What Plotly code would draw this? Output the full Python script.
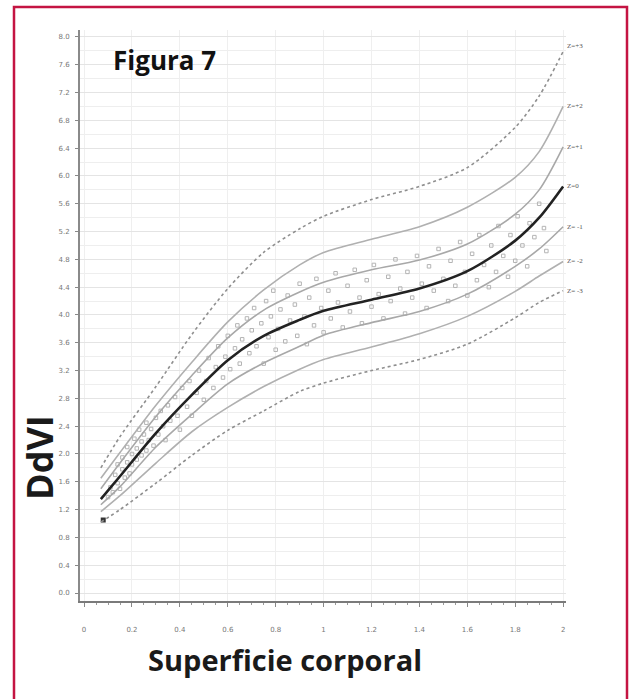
import plotly.graph_objects as go

# ---- data ----
bsa = [0.07, 0.15, 0.30, 0.45, 0.60, 0.75, 0.90, 1.00, 1.20, 1.40, 1.60, 1.80, 1.90, 2.00]

z_p3 = [1.80, 2.25, 2.97, 3.72, 4.38, 4.90, 5.24, 5.42, 5.66, 5.85, 6.12, 6.70, 7.15, 7.79]
z_p2 = [1.65, 2.02, 2.70, 3.32, 3.90, 4.36, 4.72, 4.90, 5.09, 5.27, 5.55, 5.98, 6.35, 7.00]
z_p1 = [1.50, 1.87, 2.54, 3.13, 3.67, 4.07, 4.33, 4.47, 4.65, 4.79, 5.02, 5.45, 5.80, 6.42]
z_0  = [1.35, 1.68, 2.30, 2.85, 3.35, 3.70, 3.93, 4.06, 4.22, 4.38, 4.63, 5.07, 5.40, 5.85]
z_m1 = [1.27, 1.53, 2.10, 2.57, 3.01, 3.31, 3.55, 3.71, 3.89, 4.05, 4.30, 4.70, 4.95, 5.27]
z_m2 = [1.17, 1.40, 1.87, 2.32, 2.67, 2.97, 3.22, 3.36, 3.54, 3.73, 3.98, 4.34, 4.56, 4.77]
z_m3 = [1.02, 1.20, 1.58, 1.98, 2.34, 2.62, 2.90, 3.02, 3.20, 3.36, 3.58, 3.96, 4.18, 4.35]

z_names = ["Z=+3", "Z=+2", "Z=+1", "Z=0", "Z= -1", "Z= -2", "Z= -3"]

pts_x = [0.10, 0.11, 0.12, 0.13, 0.14, 0.14, 0.15, 0.16, 0.16, 0.17,
         0.18, 0.18, 0.19, 0.20, 0.20, 0.21, 0.22, 0.22, 0.23, 0.24,
         0.24, 0.25, 0.26, 0.26, 0.27, 0.28, 0.29, 0.30, 0.31, 0.32,
         0.33, 0.34, 0.35, 0.36, 0.38, 0.39, 0.40, 0.41, 0.43, 0.44,
         0.45, 0.47, 0.48, 0.50, 0.51, 0.52, 0.54, 0.55, 0.56, 0.58,
         0.59, 0.60, 0.61, 0.63, 0.64, 0.65, 0.66, 0.68, 0.69, 0.70,
         0.71, 0.72, 0.74, 0.75, 0.76, 0.77, 0.78, 0.79, 0.80, 0.81,
         0.82, 0.84, 0.85, 0.86, 0.88, 0.89, 0.90, 0.92, 0.93, 0.94,
         0.96, 0.97, 0.99, 1.00, 1.02, 1.03, 1.05, 1.06, 1.08, 1.10,
         1.11, 1.13, 1.15, 1.16, 1.18, 1.20, 1.21, 1.23, 1.25, 1.27,
         1.28, 1.30, 1.32, 1.34, 1.35, 1.37, 1.39, 1.41, 1.43, 1.44,
         1.46, 1.48, 1.50, 1.52, 1.53, 1.55, 1.57, 1.59, 1.60, 1.62,
         1.64, 1.65, 1.67, 1.69, 1.70, 1.72, 1.73, 1.75, 1.77, 1.78,
         1.80, 1.81, 1.83, 1.85, 1.86, 1.88, 1.90, 1.92, 1.93]
pts_y = [1.38, 1.52, 1.45, 1.70, 1.58, 1.85, 1.50, 1.78, 1.95, 1.66,
         1.88, 2.10, 1.72, 2.00, 1.85, 2.22, 1.92, 2.08, 2.35, 1.98,
         2.18, 2.28, 2.05, 2.45, 2.20, 2.36, 2.12, 2.52, 2.28, 2.62,
         2.40, 2.20, 2.70, 2.48, 2.82, 2.55, 2.35, 2.95, 2.68, 3.05,
         2.55, 2.88, 3.20, 2.78, 3.05, 3.38, 2.95, 3.25, 3.55, 3.10,
         3.40, 3.70, 3.22, 3.52, 3.85, 3.30, 3.65, 3.95, 3.45, 3.78,
         4.10, 3.55, 3.88, 3.30, 4.20, 3.68, 3.98, 4.35, 3.50, 3.80,
         4.08, 3.62, 4.28, 3.92, 4.15, 3.70, 4.45, 3.98, 3.58, 4.25,
         3.85, 4.52, 4.10, 3.75, 4.35, 3.95, 4.60, 4.18, 3.82, 4.42,
         4.05, 4.65, 4.25, 3.88, 4.50, 4.12, 4.72, 4.30, 3.95, 4.55,
         4.20, 4.80, 4.38, 4.02, 4.62, 4.25, 4.85, 4.45, 4.10, 4.70,
         4.35, 4.95, 4.52, 4.20, 4.78, 4.42, 5.05, 4.62, 4.28, 4.88,
         4.50, 5.15, 4.72, 4.40, 5.00, 4.62, 5.28, 4.85, 4.55, 5.15,
         4.78, 5.42, 5.00, 4.70, 5.32, 5.12, 5.60, 5.25, 4.92]

first_x = [0.08]
first_y = [1.05]

y_ticks = [0.0, 0.4, 0.8, 1.2, 1.6, 2.0, 2.4, 2.8, 3.2, 3.6, 4.0, 4.4, 4.8, 5.2, 5.6, 6.0,
           6.4, 6.8, 7.2, 7.6, 8.0]
y_tick_text = ["0.0", "0.4", "0.8", "1.2", "1.6", "2.0", "2.4", "2.8", "3.2", "3.6", "4.0",
               "4.4", "4.8", "5.2", "5.6", "6.0", "6.4", "6.8", "7.2", "7.6", "8.0"]
x_ticks = [0, 0.2, 0.4, 0.6, 0.8, 1.0, 1.2, 1.4, 1.6, 1.8, 2.0]
x_tick_text = ["0", "0.2", "0.4", "0.6", "0.8", "1", "1.2", "1.4", "1.6", "1.8", "2"]

# ---- figure ----
W, H = 630, 699
L, R, T, B = 80, 64, 30, 98
pw, ph = W - L - R, H - T - B


def px(xp):
    return (xp - L) / pw


def py(yp):
    return (H - B - yp) / ph


fig = go.Figure()

fig.add_trace(go.Scatter(x=pts_x, y=pts_y, mode="markers",
                         marker=dict(symbol="square-open", size=3.5, color="#b4b4b4",
                                     line=dict(width=1)),
                         hoverinfo="skip"))
fig.add_trace(go.Scatter(x=first_x, y=first_y, mode="markers",
                         marker=dict(symbol="square", size=5, color="#333333"),
                         hoverinfo="skip"))

curves = [z_p3, z_p2, z_p1, z_0, z_m1, z_m2, z_m3]
styles = [dict(color="#8f8f8f", width=1.6, dash="dot"),
          dict(color="#b0b0b0", width=1.6),
          dict(color="#a8a8a8", width=1.6),
          dict(color="#222222", width=2.6),
          dict(color="#a8a8a8", width=1.6),
          dict(color="#b0b0b0", width=1.6),
          dict(color="#8f8f8f", width=1.6, dash="dot")]
for name, ys, st in zip(z_names, curves, styles):
    fig.add_trace(go.Scatter(x=bsa, y=ys, mode="lines", name=name,
                             line=dict(shape="spline", smoothing=0.8, **st),
                             hoverinfo="skip"))
    fig.add_annotation(x=bsa[-1], y=ys[-1], text=name, showarrow=False,
                       xanchor="left", yanchor="middle", xshift=2,
                       yshift=6 if name == "Z=+3" else 0,
                       font=dict(size=7, color="#555555", family="Liberation Serif"))

fig.update_xaxes(range=[-0.017, 2.012], tickvals=x_ticks, ticktext=x_tick_text,
                 showline=True, linecolor="#7a7a7a", linewidth=2,
                 ticks="outside", ticklen=4, tickcolor="#888888",
                 ticklabelstandoff=17,
                 showgrid=True, gridcolor="#efefef", gridwidth=1, zeroline=False,
                 tickfont=dict(size=7, color="#777777", family="DejaVu Sans"),
                 minor=dict(dtick=0.05, ticks="outside", ticklen=2, tickcolor="#999999",
                            showgrid=False))
fig.update_yaxes(range=[-0.115, 8.1], tickvals=y_ticks, ticktext=y_tick_text,
                 showline=True, linecolor="#8a8a8a", linewidth=2,
                 ticks="outside", ticklen=3, tickcolor="#888888",
                 ticklabelstandoff=4,
                 showgrid=True, gridcolor="#e4e4e4", gridwidth=1, zeroline=False,
                 tickfont=dict(size=7, color="#777777", family="DejaVu Sans"),
                 minor=dict(dtick=0.2, showgrid=True, gridcolor="#eeeeee", ticks=""))

fig.add_annotation(xref="paper", yref="paper", x=px(111), y=py(60), text="<b>Figura 7</b>",
                   showarrow=False, xanchor="left", yanchor="middle",
                   font=dict(size=26, color="#111111", family="Open Sans"))
fig.add_annotation(xref="paper", yref="paper", x=px(39), y=py(458), text="<b>DdVI</b>",
                   showarrow=False, textangle=-90, xanchor="center", yanchor="middle",
                   font=dict(size=36, color="#1a1a1a", family="Open Sans"))
fig.add_annotation(xref="paper", yref="paper", x=px(285), y=py(659),
                   text="<b>Superficie corporal</b>",
                   showarrow=False, xanchor="center", yanchor="middle",
                   font=dict(size=29, color="#1a1a1a", family="Open Sans"))

fig.add_shape(type="rect", xref="paper", yref="paper",
              x0=px(14), x1=px(627), y0=py(710), y1=py(7),
              line=dict(color="#c41442", width=2.5), fillcolor="rgba(0,0,0,0)")

fig.update_layout(width=W, height=H, margin=dict(l=L, r=R, t=T, b=B),
                  paper_bgcolor="white", plot_bgcolor="white", showlegend=False)

fig.write_html("out.html", post_script="document.body.style.margin='0';",
               config={"displayModeBar": False})
